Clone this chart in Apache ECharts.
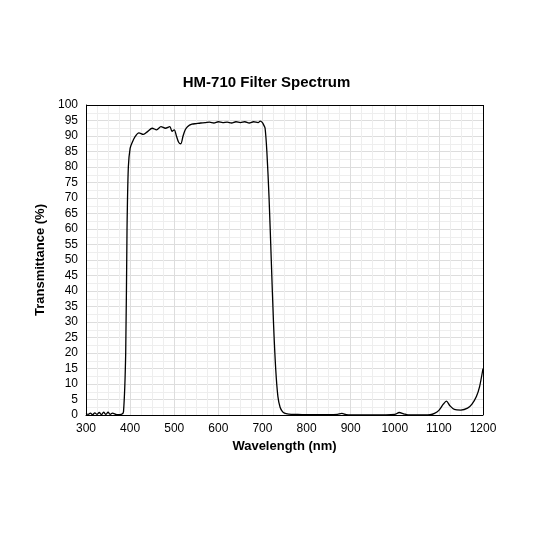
<!DOCTYPE html><html><head><meta charset="utf-8"><script src="https://cdn.jsdelivr.net/npm/echarts@6/dist/echarts.min.js"></script></head><body style="margin:0;background:#fff"><div id="c" style="width:533px;height:533px"></div><script>
var wavelength=[300,305,310,315,320,325,330,335,340,345,350,355,360,370,380,385,390,393,396,400,405,410,420,430,440,450,460,470,480,490,495,500,505,510,515,520,525,530,540,550,560,570,580,590,600,610,620,630,640,650,660,670,680,690,695,700,703,706,710,715,720,725,730,735,740,745,750,760,770,780,800,850,870,880,890,900,950,1000,1010,1020,1030,1050,1080,1090,1100,1110,1117,1125,1135,1150,1165,1175,1185,1192,1200];
var transmittance=[0.5,0.2,0.6,0.1,0.7,0.2,0.8,0.1,0.9,0.2,0.9,0.2,0.6,0.1,0.2,1,20,60,80,86,88,89.5,91,90.5,91.5,92.5,92,93,92.5,93,91.5,92,90,88,87.5,90,92,93,93.8,94,94.2,94.3,94.5,94.2,94.6,94.3,94.5,94.2,94.6,94.3,94.6,94.2,94.6,94.3,94.8,94.3,93.5,92.5,85,70,50,30,15,6,2.5,1.2,0.6,0.3,0.2,0.2,0.1,0.1,0.2,0.5,0.1,0,0,0.2,0.8,0.4,0,0,0.1,0.5,1.5,3.5,4.5,3,1.8,1.6,2.2,3.5,6,9,15];
var data=wavelength.map(function(w,i){return [w,transmittance[i]];});
var ch=echarts.init(document.getElementById('c'));
var ax={color:'#000',fontSize:12,fontFamily:'Liberation Sans',formatter:function(v){return String(v);}};
ch.setOption({
title:{text:'HM-710 Filter Spectrum',left:'center',top:70,textStyle:{fontSize:15,fontWeight:'bold',color:'#000',fontFamily:'Liberation Sans'}},
grid:{left:86,right:50,top:105,bottom:118},
xAxis:{type:'value',min:300,max:1200,interval:100,name:'Wavelength (nm)',nameLocation:'middle',nameGap:22,nameTextStyle:{fontSize:13,fontWeight:'bold',color:'#000',fontFamily:'Liberation Sans'},
axisLine:{show:true,lineStyle:{color:'#000'}},axisTick:{show:false},axisLabel:ax,
splitLine:{show:true,lineStyle:{color:'#ddd'}},minorTick:{show:false,splitNumber:4},minorSplitLine:{show:true,lineStyle:{color:'#eee'}}},
yAxis:{type:'value',min:0,max:100,interval:5,name:'Transmittance (%)',nameLocation:'middle',nameGap:34,nameRotate:90,nameTextStyle:{fontSize:13,fontWeight:'bold',color:'#000',fontFamily:'Liberation Sans'},
axisLine:{show:true,lineStyle:{color:'#000'}},axisTick:{show:false},axisLabel:ax,
splitLine:{show:true,lineStyle:{color:'#ddd'}},minorTick:{show:false,splitNumber:2},minorSplitLine:{show:true,lineStyle:{color:'#eee'}}},
series:[{type:'line',data:data,smooth:0.3,showSymbol:false,lineStyle:{color:'#000',width:1.3}},
{type:'line',data:[],markLine:{silent:true,symbol:'none',label:{show:false},lineStyle:{color:'#000',type:'solid',width:1},data:[{xAxis:1200},{yAxis:100}]}}]
});
</script></body></html>
